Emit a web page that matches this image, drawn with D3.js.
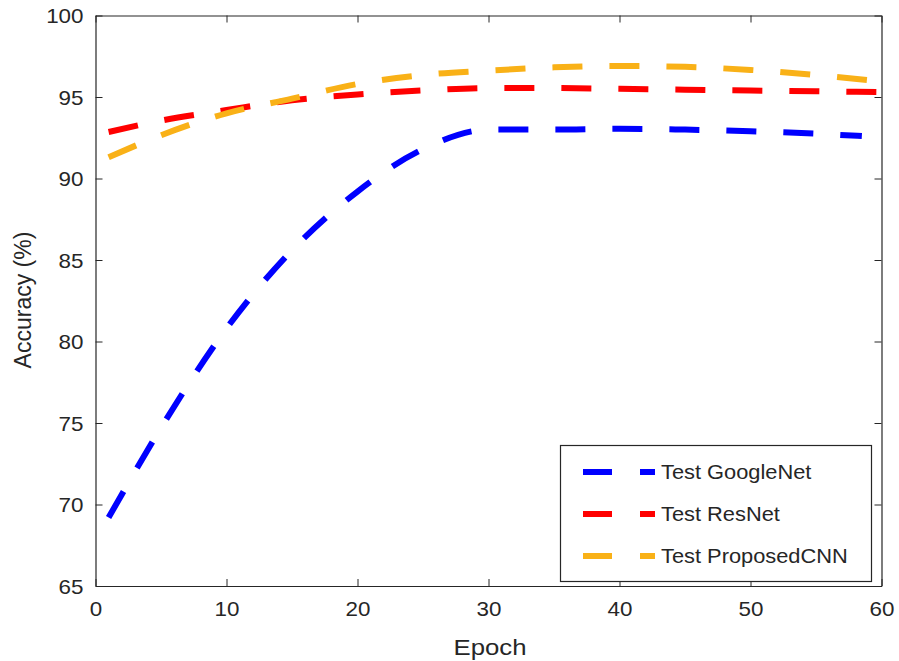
<!DOCTYPE html>
<html>
  <head>
    <title>Accuracy vs Epoch</title>
    <script type="text/javascript" src="https://cdn.jsdelivr.net/npm/d3@7"></script>
    <style type="text/css">
      body {
        margin: 0;
        background: #fff;
      }
      text {
        font-family: "Liberation Sans", Arial, sans-serif;
        fill: #262626;
      }
      .axis path, .axis line {
        stroke: #262626;
      }
    </style>
  </head>
  <body>
  </body>
  <script type="text/javascript">

  // values
  var epochs = [1, 5, 10, 15, 20, 25, 30, 35, 40, 45, 50, 55, 60]
  var googleEpochs = [1, 5, 10, 15, 20, 25, 30, 35, 40, 45, 50, 55, 58.5]
  var googleNet = [69.2, 74.7, 80.8, 85.6, 89.2, 91.8, 93.0, 93.0, 93.05, 93.0, 92.9, 92.75, 92.6]
  var resNet = [92.85, 93.55, 94.2, 94.8, 95.15, 95.4, 95.55, 95.55, 95.5, 95.45, 95.4, 95.35, 95.3]
  var proposedCNN = [91.3, 92.65, 94.0, 94.9, 95.8, 96.35, 96.62, 96.82, 96.9, 96.85, 96.66, 96.35, 95.95]

  var seriesNames = ['Test GoogleNet', 'Test ResNet', 'Test ProposedCNN']
  var seriesColors = ['#0000ff', '#ff0000', '#f9b117']
  var xTicks = [0, 10, 20, 30, 40, 50, 60]
  var yTicks = [65, 70, 75, 80, 85, 90, 95, 100]

  var W = 899, H = 661
  var pLeft = 95.5, pTop = 15.5, pRight = 881.5, pBottom = 586
  var stretch = 'scale(1.12,1)'

  var svg = d3.select('body')
    .append('svg')
      .attr('width', W)
      .attr('height', H)

  var x = d3.scaleLinear().domain([0, 60]).range([pLeft, pRight])
  var y = d3.scaleLinear().domain([65, 100]).range([pBottom, pTop])

  // box with inside ticks on all four sides
  var axB = svg.append('g').attr('class', 'axis')
    .attr('transform', 'translate(0,' + pBottom + ')')
    .call(d3.axisBottom(x).tickValues(xTicks).tickSizeInner(-7).tickSizeOuter(0).tickPadding(16))
  var axT = svg.append('g').attr('class', 'axis')
    .attr('transform', 'translate(0,' + pTop + ')')
    .call(d3.axisTop(x).tickValues(xTicks).tickSizeInner(-7).tickSizeOuter(0).tickFormat(''))
  var axL = svg.append('g').attr('class', 'axis')
    .attr('transform', 'translate(' + pLeft + ',0)')
    .call(d3.axisLeft(y).tickValues(yTicks).tickSizeInner(-7).tickSizeOuter(0).tickPadding(19))
  var axR = svg.append('g').attr('class', 'axis')
    .attr('transform', 'translate(' + pRight + ',0)')
    .call(d3.axisRight(y).tickValues(yTicks).tickSizeInner(-7).tickSizeOuter(0).tickFormat(''))

  svg.selectAll('.axis text')
    .style('font-size', '20px')
    .style('font-family', '"Liberation Sans", Arial, sans-serif')
    .attr('fill', '#262626')
  axB.selectAll('text').attr('transform', stretch)
  axL.selectAll('text').attr('transform', stretch).attr('x', -12 / 1.12).attr('dy', '0.36em')
  svg.selectAll('.axis path').attr('stroke-width', 1.2)

  // lines
  var line = d3.line()
    .x(function(d) { return x(d[0]); })
    .y(function(d) { return y(d[1]); })
    .curve(d3.curveMonotoneX)

  var series = [
    d3.zip(googleEpochs, googleNet),
    d3.zip(epochs, resNet),
    d3.zip(epochs, proposedCNN)
  ]

  svg.selectAll('path.series').data(series)
    .enter().append('path')
      .attr('class', 'series')
      .attr('d', line)
      .attr('fill', 'none')
      .attr('stroke', function(d, i) { return seriesColors[i]; })
      .attr('stroke-width', 6)
      .attr('stroke-dasharray', '30,27')

  // axis labels
  svg.append('text')
    .attr('transform', 'translate(490,655) ' + stretch)
    .attr('text-anchor', 'middle')
    .style('font-size', '23px')
    .text('Epoch')

  svg.append('text')
    .attr('transform', 'translate(31,300) rotate(-90)')
    .attr('text-anchor', 'middle')
    .style('font-size', '23px')
    .text('Accuracy (%)')

  // legend
  var legend = svg.append('g')
  legend.append('rect')
    .attr('x', 560.5).attr('y', 445.5)
    .attr('width', 311).attr('height', 136)
    .attr('fill', '#fff')
    .attr('stroke', '#262626')
    .attr('stroke-width', 1.2)

  var rows = legend.selectAll('g.row').data(seriesNames)
    .enter().append('g')
      .attr('class', 'row')
      .attr('transform', function(d, i) { return 'translate(0,' + (472 + i * 42) + ')'; })

  rows.append('line')
    .attr('x1', 583).attr('x2', 655)
    .attr('stroke', function(d, i) { return seriesColors[i]; })
    .attr('stroke-width', 6)
    .attr('stroke-dasharray', '29,28')

  rows.append('text')
    .attr('transform', 'translate(661,7) ' + stretch)
    .style('font-size', '19.5px')
    .text(function(d) { return d; })

  </script>
</html>
